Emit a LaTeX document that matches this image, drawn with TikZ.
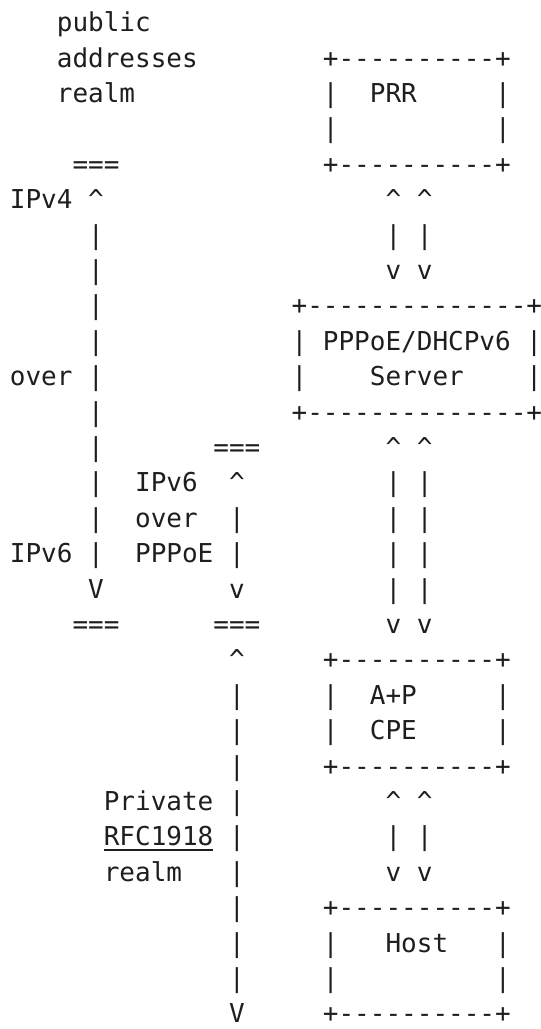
\documentclass[tikz,border=0pt]{standalone}
\usepackage{fontspec}
\setmonofont{DejaVu Sans Mono}

\definecolor{ink}{HTML}{1E1E1E}
\tikzset{
  ascii/.style={anchor=base west, inner sep=0pt, outer sep=0pt, text=ink,
    font=\ttfamily\fontsize{13pt}{15pt}\selectfont},
}

\begin{document}
\begin{tikzpicture}[x=7.826pt, y=-17.70pt]

\fill[white] (0pt,0pt) rectangle (270.5pt,-514.5pt);
\useasboundingbox (0pt,0pt) rectangle (270.5pt,-514.5pt);

\begin{scope}[shift={(4.95pt,1.85pt)}]

% Realm labels
\node[ascii] (public) at (3,1) {public};
\node[ascii] (addresses) at (3,2) {addresses};
\node[ascii] (pubrealm) at (3,3) {realm};
\node[ascii] (private) at (6,23) {Private};
\node[ascii] (rfc) at (6,24) {RFC1918};
\node[ascii] (privrealm) at (6,25) {realm};
\draw[ink, line width=0.9pt] ([yshift=-2.2pt]rfc.base west) -- ([yshift=-2.2pt]rfc.base east);

% IPv4 over IPv6 span
\node[ascii] (vfourtop) at (4,5) {===};
\node[ascii] (ipv4) at (0,6) {IPv4};
\node[ascii] (vfourup) at (5,6) {\textasciicircum};
\foreach \s in {7,...,16}
  \node[ascii] (vfourbar\s) at (5,\s) {|};
\node[ascii] (over) at (0,11) {over};
\node[ascii] (ipv6) at (0,16) {IPv6};
\node[ascii] (vfourdown) at (5,17) {V};
\node[ascii] (vfourbot) at (4,18) {===};

% IPv6 over PPPoE span
\node[ascii] (vsixtop) at (13,13) {===};
\node[ascii] (vsixup) at (14,14) {\textasciicircum};
\node[ascii] (vsixbar15) at (14,15) {|};
\node[ascii] (vsixbar16) at (14,16) {|};
\node[ascii] (vsixdown) at (14,17) {v};
\node[ascii] (vsixbot) at (13,18) {===};
\node[ascii] (ipvsix) at (8,14) {IPv6};
\node[ascii] (overppp) at (8,15) {over};
\node[ascii] (pppoe) at (8,16) {PPPoE};

% Private realm span
\node[ascii] (privup) at (14,19) {\textasciicircum};
\foreach \s in {20,...,28}
  \node[ascii] (privbar\s) at (14,\s) {|};
\node[ascii] (privdown) at (14,29) {V};

% Small boxes
\foreach \t/\b/\bx in {2/5/prr, 19/22/cpe, 26/29/host} {
  \node[ascii] (\bx top) at (20,\t) {+----------+};
  \node[ascii] (\bx bot) at (20,\b) {+----------+};
}
\foreach \s in {3,4,20,21,27,28} {
  \node[ascii] (lside\s) at (20,\s) {|};
  \node[ascii] (rside\s) at (31,\s) {|};
}
\node[ascii] (prr) at (23,3) {PRR};
\node[ascii] (ap) at (23,20) {A+P};
\node[ascii] (cpe) at (23,21) {CPE};
\node[ascii] (host) at (24,27) {Host};

% Server box
\node[ascii] (srvtop) at (18,9) {+--------------+};
\node[ascii] (srvbot) at (18,12) {+--------------+};
\foreach \s in {10,11} {
  \node[ascii] (srvl\s) at (18,\s) {|};
  \node[ascii] (srvr\s) at (33,\s) {|};
}
\node[ascii] (dhcp) at (20,10) {PPPoE/DHCPv6};
\node[ascii] (server) at (23,11) {Server};

% Double arrows between boxes
\foreach \u/\d in {6/8, 13/18, 23/25} {
  \foreach \x in {24,26} {
    \node[ascii] (up\x x\u) at (\x,\u) {\textasciicircum};
    \node[ascii] (dn\x x\d) at (\x,\d) {v};
  }
}
\foreach \s in {7,14,15,16,17,24}
  \foreach \x in {24,26}
    \node[ascii] (bar\x x\s) at (\x,\s) {|};

\end{scope}

\end{tikzpicture}
\end{document}
